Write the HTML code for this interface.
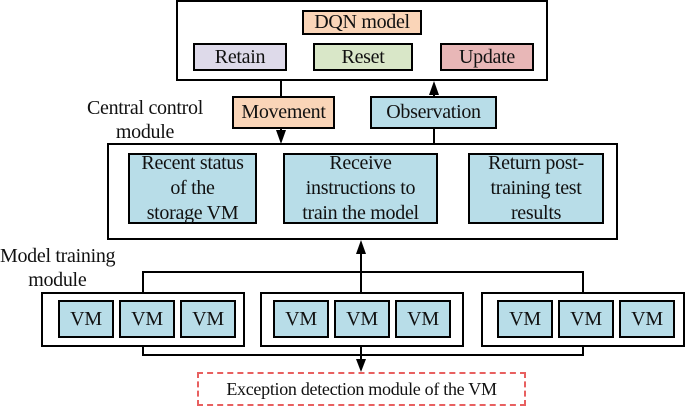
<!DOCTYPE html><html><head><style>
body{margin:0;width:685px;height:407px;background:#fff;overflow:hidden;position:relative;font-family:"Liberation Serif",serif;}
.b{position:absolute;box-sizing:border-box;border:2px solid #000;display:flex;align-items:center;justify-content:center;text-align:center;font-size:20px;line-height:25px;color:#111;background:#fff;letter-spacing:-0.3px;}
.t{position:absolute;font-size:20px;line-height:24px;color:#111;letter-spacing:-0.3px;}
.c{background:#b8dde8}
svg{position:absolute;left:0;top:0}
</style></head><body>
<svg width="685" height="407">
<g stroke="#000" stroke-width="2" fill="none">
<path d="M281 81V134"/><path d="M434 96V90"/><path d="M434 129V143"/>
<path d="M361 292V250"/><path d="M143 292V272H583V292"/>
<path d="M143 347V355H583V347"/><path d="M361 347V364"/>
</g>
<g fill="#000">
<polygon points="276,130 286,130 281,144"/>
<polygon points="429,95 439,95 434,81"/>
<polygon points="356,254 366,254 361,240"/>
<polygon points="356,359 366,359 361,372"/>
</g></svg>
<div class="b" style="left:176px;top:0;width:372px;height:81px;"></div>
<div class="b" style="left:302px;top:10px;width:120px;height:25px;background:#fad5b8">DQN model</div>
<div class="b" style="left:193px;top:43px;width:94px;height:28px;background:#dedaea">Retain</div>
<div class="b" style="left:313px;top:43px;width:100px;height:28px;background:#d9e7c8">Reset</div>
<div class="b" style="left:440px;top:43px;width:94px;height:28px;background:#e8b7b7">Update</div>
<div class="b" style="left:232px;top:96px;width:103px;height:33px;background:#fad5b8">Movement</div>
<div class="b c" style="left:370px;top:96px;width:127px;height:33px;">Observation</div>
<div class="t" style="left:80px;top:96px;text-align:center;width:130px;">Central control<br>module</div>
<div class="b" style="left:107px;top:143px;width:511px;height:97px;background:none"></div>
<div class="b c" style="left:128px;top:153px;width:129px;height:71px;">Recent status<br>of the<br>storage VM</div>
<div class="b c" style="left:283px;top:153px;width:155px;height:71px;">Receive<br>instructions to<br>train the model</div>
<div class="b c" style="left:468px;top:153px;width:136px;height:71px;">Return post-<br>training test<br>results</div>
<div class="t" style="left:0;top:244px;">Model training<br>&nbsp;&nbsp;&nbsp;&nbsp;&nbsp;&nbsp;module</div>
<div class="b" style="left:41px;top:292px;width:204px;height:55px;"></div>
<div class="b" style="left:260px;top:292px;width:204px;height:55px;"></div>
<div class="b" style="left:481px;top:292px;width:204px;height:55px;"></div>
<div class="b c" style="left:58px;top:300px;width:56px;height:38px;">VM</div>
<div class="b c" style="left:119px;top:300px;width:56px;height:38px;">VM</div>
<div class="b c" style="left:180px;top:300px;width:56px;height:38px;">VM</div>
<div class="b c" style="left:273px;top:300px;width:56px;height:38px;">VM</div>
<div class="b c" style="left:334px;top:300px;width:56px;height:38px;">VM</div>
<div class="b c" style="left:395px;top:300px;width:56px;height:38px;">VM</div>
<div class="b c" style="left:497px;top:300px;width:56px;height:38px;">VM</div>
<div class="b c" style="left:558px;top:300px;width:56px;height:38px;">VM</div>
<div class="b c" style="left:619px;top:300px;width:56px;height:38px;">VM</div>
<div class="b" style="left:197px;top:372px;width:329px;height:34px;border:2px dashed #e86060;font-size:18px;">Exception detection module of the VM</div>
<div class="b" style="left:360px;top:292px;width:2px;height:2px;border:none;background:#000"></div>
</body></html>
